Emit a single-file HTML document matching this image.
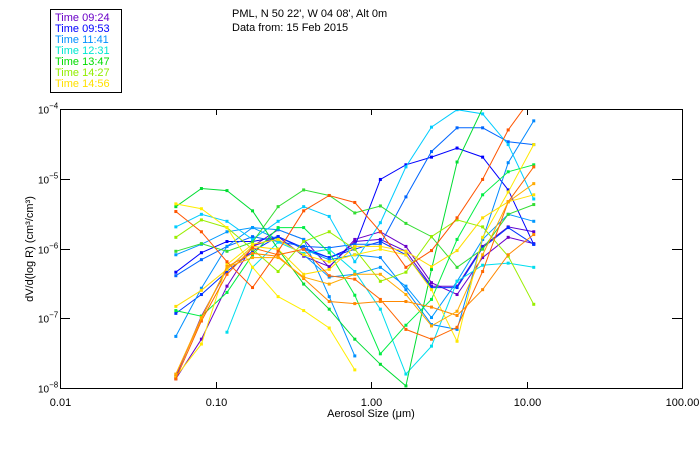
<!DOCTYPE html>
<html><head><meta charset="utf-8"><style>
body{margin:0;background:#fff;width:700px;height:450px;overflow:hidden;font-family:"Liberation Sans",sans-serif;}
svg text{font-family:"Liberation Sans",sans-serif;}
</style></head><body>
<svg id="chart" width="700" height="450" viewBox="0 0 700 450" xmlns="http://www.w3.org/2000/svg">
<rect width="700" height="450" fill="#fff"/>
<g font-size="11" fill="#000">
<text x="232" y="17">PML, N 50 22', W 04 08', Alt 0m</text>
<text x="232" y="31">Data from: 15 Feb 2015</text>
</g>
<g id="legend"><rect x="50.5" y="9.5" width="71" height="83" fill="#fff" stroke="#000"/></g>
<g id="plot"></g>
<rect x="60.5" y="109.5" width="622" height="279" fill="none" stroke="#000"/>
<g id="axes" font-size="11" fill="#000"></g>
<text x="371" y="417" font-size="11" text-anchor="middle">Aerosol Size (μm)</text>
<text transform="translate(33,249) rotate(-90)" font-size="11" text-anchor="middle">dV/d(log R) (cm³/cm³)</text>
</svg>
<script>
const sizeExp0 = -1.255;
const sizeStep = 0.1644;
const legendLabels = ["Time 09:24","Time 09:53","Time 11:41","Time 12:31","Time 13:47","Time 14:27","Time 14:56"];
const legendColors = ["#6a00c8","#0000ff","#0090ff","#00e8d0","#00dd00","#90ee00","#ffe000"];
const xTicks = [0.01,0.1,1,10,100];
const xTickLabels = ["0.01","0.10","1.00","10.00","100.00"];
const yTickExps = [-4,-5,-6,-7,-8];
const seriesColors = ["#6a00c8","#5a00d0","#0000ff","#0033ff","#0066ff","#0090ff","#0099ff","#0088ff","#00ccff","#00ddee","#00dd33","#33dd33","#00ee44","#99ee00","#ffee00","#ffdd00","#ffe800","#ff5500","#ff6600","#ff8800","#ffaa00"];
// log10 of dV/d(log R), one array per series (null = no data)
const s0 = [-7.87,-7.30,-6.54,-5.97,-5.73,-5.87,-6.27,-5.87,-5.76,-5.97,-6.49,-6.66,-6.13,-5.84,-5.93];
const s1 = [-7.84,-6.97,-6.30,-5.97,-5.83,-6.11,-6.26,-5.90,-5.87,-6.04,-6.54,-6.54,-5.97,-5.69,-5.76];
const s2 = [-6.34,-6.06,-5.90,-5.90,-5.83,-5.99,-6.13,-5.97,-5.01,-4.80,-4.69,-4.56,-4.69,-5.16,-5.94];
const s3 = [-6.93,-6.66,-6.33,-6.04,-5.83,-6.01,-6.13,-6.01,-5.90,-6.09,-6.56,-6.56,-5.99,-5.70,-5.94];
const s4 = [-6.39,-6.16,-5.97,-5.83,-5.90,-5.97,-5.99,-5.94,-5.94,-5.26,-4.61,-4.27,-4.27,-4.47,-4.51];
const s5 = [-7.26,-6.57,-5.97,-5.70,-5.73,-5.87,-6.69,-7.54,null,null,null,null,null,null,null];
const s6 = [-6.09,-5.94,-5.76,-5.70,-5.87,-6.09,-6.41,-6.37,-6.27,-6.54,-6.99,-6.47,-5.87,-5.51,-5.61];
const s7 = [null,null,null,null,null,-6.01,-6.16,-6.09,-6.13,-6.59,-7.09,-7.16,-5.87,-4.77,-4.17];
const s8 = [-5.69,-5.51,-5.61,-5.87,-5.61,-5.40,-5.54,-6.19,-5.63,-4.83,-4.26,-4.01,-4.07,-4.51,-5.29];
const s9 = [null,null,-7.20,-6.27,-5.91,-6.07,-6.01,-6.33,-6.87,-7.80,-7.40,-6.47,-6.24,-6.21,-6.27];
const s10 = [-5.40,-5.14,-5.17,-5.46,-6.01,-6.51,-6.87,-7.30,-7.66,-7.97,-6.30,-4.76,-3.99,null,null];
const s11 = [-6.04,-5.93,-6.04,-5.91,-5.40,-5.16,-5.24,-5.49,-5.39,-5.64,-5.83,-6.27,-6.01,-5.51,-5.37];
const s12 = [-6.89,-6.97,-6.63,-6.09,-5.70,-5.70,-6.06,-6.67,-7.51,-7.10,-6.73,-5.87,-5.23,-4.90,-4.80];
const s13 = [-5.84,-5.59,-5.70,-6.01,-6.33,-5.90,-5.76,-6.01,-6.47,-6.34,-5.83,-5.59,-5.69,-6.11,-6.80];
const s14 = [-5.36,-5.43,-5.70,-6.27,-6.69,-6.89,-7.14,-7.74,null,null,null,null,null,null,null];
const s15 = [-6.83,-6.60,-6.30,-5.97,-6.01,-6.37,-6.30,-5.97,-5.97,-6.04,-6.26,-6.03,-5.56,-5.33,-5.23];
const s16 = [-7.84,-7.37,-6.23,-5.94,-5.87,-6.09,-6.19,-6.09,-6.01,-6.09,-6.59,-7.33,-5.84,-5.19,-4.51];
const s17 = [-5.47,-5.76,-6.19,-6.56,-6.04,-5.46,-5.24,-5.34,-5.76,-6.27,-6.03,-5.56,-5.01,-4.30,-3.80];
const s18 = [-7.87,-7.04,-6.37,-5.99,-6.09,-6.01,-6.39,-6.44,-6.73,-7.16,-7.30,-7.13,-6.33,-5.33,-4.83];
const s19 = [-7.81,-7.01,-6.26,-6.07,-6.11,-6.43,-6.76,-6.79,-6.76,-6.76,-6.84,-6.96,-6.59,-6.09,-5.80];
const s20 = [-7.80,-6.99,-6.27,-6.13,-6.13,-6.41,-6.51,-6.37,-6.37,-6.66,-7.11,-6.90,-6.09,-5.33,-5.07];
const allSeries = [s0,s1,s2,s3,s4,s5,s6,s7,s8,s9,s10,s11,s12,s13,s14,s15,s16,s17,s18,s19,s20];

const NS = "http://www.w3.org/2000/svg";
const X0 = 60, X1 = 682, Y0 = 109, Y1 = 388;
function xScale(v){ return X0 + (Math.log10(v) + 2) / 4 * (X1 - X0); }
function yScale(v){ return Y0 + (-4 - Math.log10(v)) / 4 * (Y1 - Y0); }
function mk(tag, attrs, parent){ const e = document.createElementNS(NS, tag); for (const k in attrs) e.setAttribute(k, attrs[k]); parent.appendChild(e); return e; }

const plot = document.getElementById('plot');
const clip = mk('clipPath', {id:'pc'}, plot);
mk('rect', {x:X0, y:Y0, width:X1-X0, height:Y1-Y0}, clip);
const pg = mk('g', {'clip-path':'url(#pc)'}, plot);
allSeries.forEach((arr, si) => {
  const col = seriesColors[si];
  const g = mk('g', {}, pg);
  
  
  let d = '', pen = false;
  const pts = [];
  arr.forEach((e, i) => {
    if (e === null) { pen = false; return; }
    const x = xScale(Math.pow(10, sizeExp0 + i * sizeStep));
    const y = yScale(Math.pow(10, e));
    d += (pen ? 'L' : 'M') + x.toFixed(1) + ' ' + y.toFixed(1);
    pen = true; pts.push([x, y]);
  });
  const p = mk('path', {d:d, fill:'none', stroke:col, 'stroke-width':1}, g);
  
  
  pts.forEach(([x, y]) => {
    const r = mk('rect', {x:x-1.5, y:y-1.5, width:3, height:3, fill:col}, g);
    
    
  });
});

const axes = document.getElementById('axes');
xTicks.forEach((v, i) => {
  const x = Math.round(xScale(v)) + 0.5;
  mk('line', {x1:x, x2:x, y1:Y1, y2:Y1-6, stroke:'#000'}, axes);
  mk('line', {x1:x, x2:x, y1:Y0, y2:Y0+6, stroke:'#000'}, axes);
  const t = mk('text', {x:x, y:Y1+18, 'text-anchor':'middle'}, axes);
  
  
  t.textContent = xTickLabels[i];
});
yTickExps.forEach(e => {
  const y = Math.round(yScale(Math.pow(10, e))) + 0.5;
  mk('line', {x1:X0, x2:X0+10, y1:y, y2:y, stroke:'#000'}, axes);
  mk('line', {x1:X1, x2:X1-10, y1:y, y2:y, stroke:'#000'}, axes);
  const t = mk('text', {x:38, y:y+4, 'font-size':10}, axes);
  
  
  t.textContent = '10';
  const s = mk('tspan', {dy:-5, 'font-size':8}, t);
  s.textContent = '\u2212' + (-e);
});

const leg = document.getElementById('legend');
legendLabels.forEach((lab, i) => {
  const t = mk('text', {x:55, y:21 + i * 11, fill:legendColors[i], 'font-size':11}, leg);
  
  
  t.textContent = lab;
});
</script>
</body></html>
